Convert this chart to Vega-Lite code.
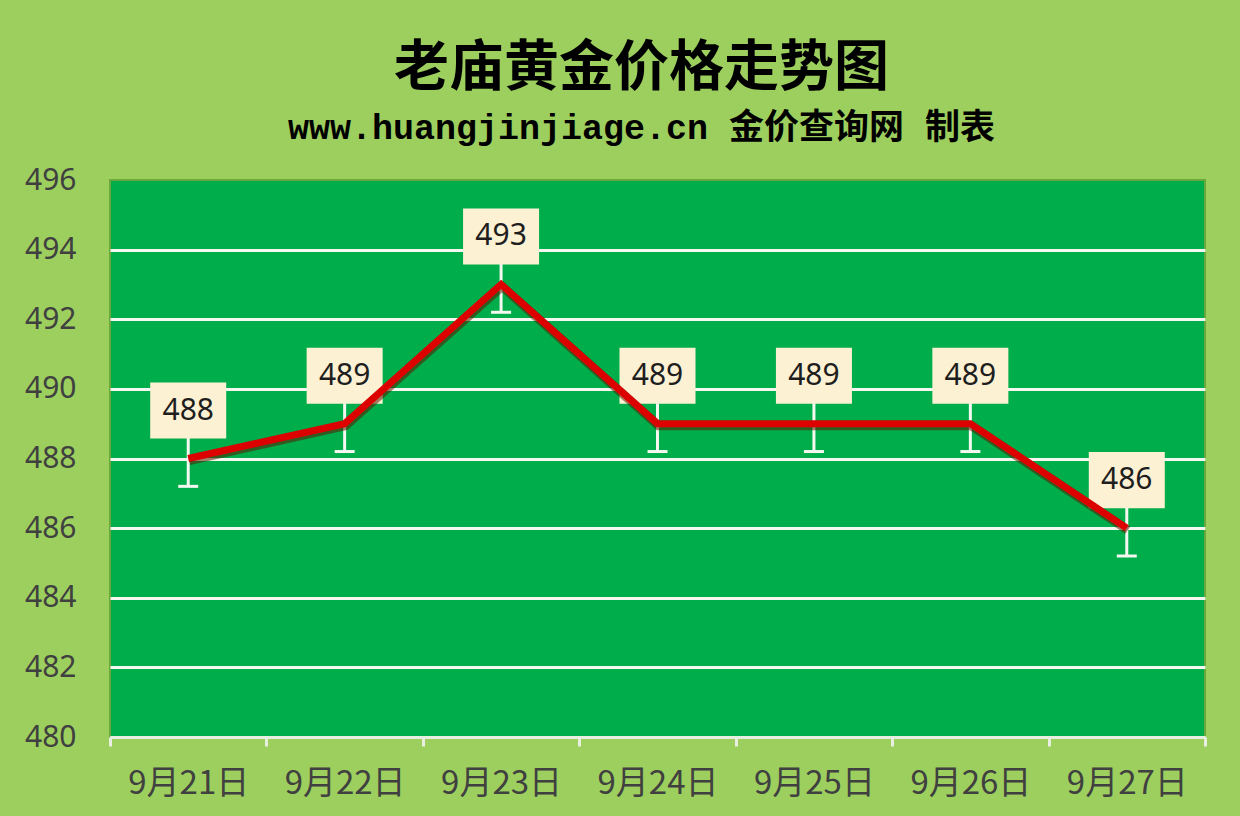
{
  "$schema": "https://vega.github.io/schema/vega-lite/v6.json",
  "width": 1095,
  "height": 557,
  "autosize": {"type": "none"},
  "padding": {"left": 110, "top": 180, "right": 35, "bottom": 79},
  "background": "#9dcf5f",
  "config": {
    "view": {"fill": "#00ad4b", "stroke": "#6aa83c", "strokeWidth": 2}
  },
  "title": {
    "text": "老庙黄金价格走势图",
    "subtitle": "www.huangjinjiage.cn 金价查询网 制表",
    "font": "Noto Sans CJK SC",
    "fontSize": 55,
    "fontWeight": "bold",
    "color": "#000000",
    "subtitleFont": "Liberation Mono, Noto Sans CJK SC",
    "subtitleFontSize": 35,
    "subtitleFontWeight": "bold",
    "subtitleColor": "#000000",
    "subtitlePadding": 14,
    "anchor": "middle",
    "dx": -16,
    "offset": 18
  },
  "data": {
    "values": [
      {"date": "9月21日", "price": 488, "lo": 487.2, "hi": 488.8},
      {"date": "9月22日", "price": 489, "lo": 488.2, "hi": 489.8},
      {"date": "9月23日", "price": 493, "lo": 492.2, "hi": 493.8},
      {"date": "9月24日", "price": 489, "lo": 488.2, "hi": 489.8},
      {"date": "9月25日", "price": 489, "lo": 488.2, "hi": 489.8},
      {"date": "9月26日", "price": 489, "lo": 488.2, "hi": 489.8},
      {"date": "9月27日", "price": 486, "lo": 485.2, "hi": 486.8}
    ]
  },
  "encoding": {
    "x": {
      "field": "date",
      "type": "nominal",
      "sort": null,
      "scale": {"type": "band", "paddingInner": 0, "paddingOuter": 0},
      "axis": {
        "title": null,
        "labelAngle": 0,
        "labelFont": "Noto Sans CJK SC",
        "labelFontSize": 33,
        "labelColor": "#404040",
        "labelPadding": 21,
        "tickBand": "extent",
        "tickColor": "#e8efe0",
        "tickSize": 9,
        "tickWidth": 3,
        "domainColor": "#e8efe0",
        "domainWidth": 3,
        "grid": false
      }
    }
  },
  "layer": [
    {
      "mark": {"type": "rule", "color": "#f4f8f0", "strokeWidth": 3},
      "encoding": {
        "y": {
          "field": "lo",
          "type": "quantitative",
          "scale": {"domain": [480, 496], "nice": false, "zero": false},
          "axis": {
            "title": null,
            "values": [480, 482, 484, 486, 488, 490, 492, 494, 496],
            "labelFont": "Noto Sans",
            "labelFontSize": 30,
            "labelColor": "#404040",
            "labelPadding": 34,
            "ticks": false,
            "domain": false,
            "grid": true,
            "gridColor": "#f4f8f0",
            "gridWidth": 3,
            "gridOpacity": {"condition": {"test": "datum.value === 496", "value": 0}, "value": 1}
          }
        },
        "y2": {"field": "hi"}
      }
    },
    {
      "mark": {"type": "tick", "color": "#f4f8f0", "size": 20, "thickness": 3, "opacity": 1},
      "encoding": {"y": {"field": "lo", "type": "quantitative"}}
    },
    {
      "mark": {
        "type": "point",
        "shape": "M-1,-0.737H1V0.737H-1Z",
        "size": 5776,
        "filled": true,
        "color": "#fdf1d3",
        "opacity": 1,
        "yOffset": -48
      },
      "encoding": {"y": {"field": "price", "type": "quantitative"}}
    },
    {
      "mark": {
        "type": "text",
        "font": "Noto Sans",
        "fontSize": 30,
        "color": "#1e1e1e",
        "baseline": "middle",
        "dy": -48
      },
      "encoding": {
        "y": {"field": "price", "type": "quantitative"},
        "text": {"field": "price", "type": "quantitative"}
      }
    },
    {
      "mark": {"type": "line", "color": "#5a1a00", "strokeWidth": 9, "opacity": 0.55, "xOffset": 1, "yOffset": 2},
      "encoding": {"y": {"field": "price", "type": "quantitative"}}
    },
    {
      "mark": {"type": "line", "color": "#dc0000", "strokeWidth": 7, "strokeJoin": "miter"},
      "encoding": {"y": {"field": "price", "type": "quantitative"}}
    }
  ]
}
